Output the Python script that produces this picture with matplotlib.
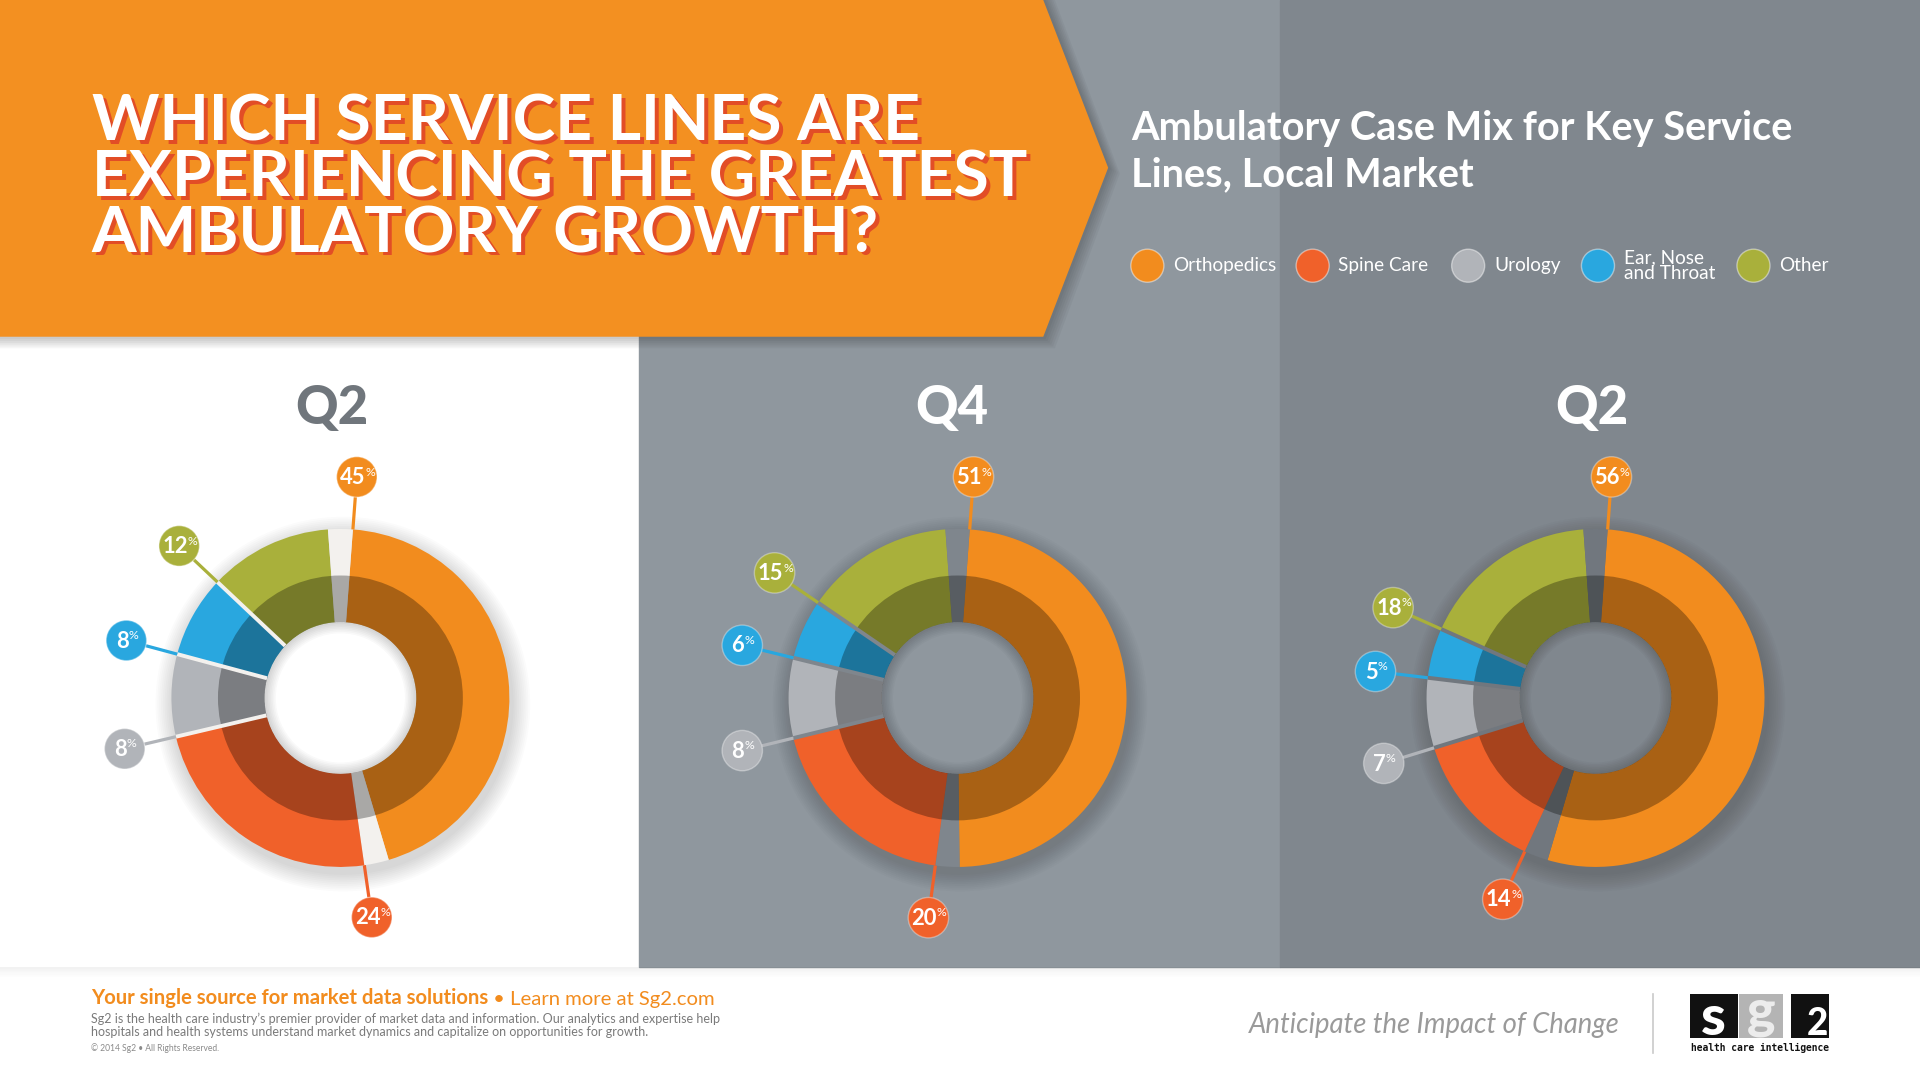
import numpy as np
import matplotlib.pyplot as plt
from matplotlib.patches import Rectangle, Polygon, Circle, Wedge

# layout is worked out on a 1568 x 882 grid and scaled up to 1920 x 1080
W, H = 1568, 882
S = 1920 / W

quarters = ['Q2', 'Q4', 'Q2']
service_lines = ['Orthopedics', 'Spine Care', 'Urology', 'Ear, Nose\nand Throat', 'Other']
orthopedics = [45, 51, 56]
spine_care = [24, 20, 14]
urology = [8, 8, 7]
ent = [8, 6, 5]
other = [12, 15, 18]

line_colors = ['#f28c1e', '#f0612a', '#b1b4b9', '#29a7df', '#a9b03b']

plt.rcParams['font.family'] = ['Lato', 'DejaVu Sans']


def pt(px):
    # size in grid pixels -> points
    return px * S * 0.72


def Y(y):
    return H - y


fig = plt.figure(figsize=(19.2, 10.8), dpi=100)
ax = fig.add_axes([0, 0, 1, 1])

# backgrounds
panel_bg = ['#ffffff', '#8f979e', '#80878e']
gap_bg = ['#f3f1ee', '#7f868d', '#71777e']
ax.add_patch(Rectangle((0, 0), W, H, color='white', zorder=0))
ax.add_patch(Rectangle((522, Y(790)), 523, 790, color=panel_bg[1], zorder=0))
ax.add_patch(Rectangle((1045, Y(790)), 523, 790, color=panel_bg[2], zorder=0))
for k in range(8):
    ax.add_patch(Rectangle((0, Y(790) - k - 1), W, 1, color='black',
                           alpha=0.05 * (1 - k / 8), lw=0, zorder=0.1))

# banner with soft shadow
for k in range(6):
    d = 2 + k * 1.5
    ax.add_patch(Polygon([(0, Y(0)), (852 + d, Y(0)), (905 + d, Y(137 + d / 2)),
                          (852 + d, Y(275 + d)), (0, Y(275 + d))],
                         closed=True, color='black', alpha=0.035, lw=0, zorder=0.2))
ax.add_patch(Polygon([(0, Y(0)), (852, Y(0)), (905, Y(137)), (852, Y(275)), (0, Y(275))],
                     closed=True, color='#f39021', lw=0, zorder=0.3))

title_lines = ['WHICH SERVICE LINES ARE', 'EXPERIENCING THE GREATEST', 'AMBULATORY GROWTH?']
for i, line in enumerate(title_lines):
    yb = 115 + i * 45.5
    ax.text(75 + 3, Y(yb + 3), line, color='#e24d26', fontsize=pt(52.5), fontweight='bold',
            va='baseline', ha='left', zorder=5)
    ax.text(75, Y(yb), line, color='white', fontsize=pt(52.5), fontweight='bold',
            va='baseline', ha='left', zorder=6)

ax.text(924, Y(114), 'Ambulatory Case Mix for Key Service', color='white', fontsize=pt(32.5),
        fontweight='bold', va='baseline', ha='left', zorder=5)
ax.text(924, Y(152), 'Lines, Local Market', color='white', fontsize=pt(32.5),
        fontweight='bold', va='baseline', ha='left', zorder=5)

# legend
legend_x = [937, 1072, 1199, 1305, 1432]
for name, col, lx in zip(service_lines, line_colors, legend_x):
    ax.add_patch(Circle((lx, Y(217)), 13.5, facecolor=col, edgecolor=(1, 1, 1, 0.45),
                        lw=1, zorder=5))
    ax.text(lx + 21, Y(217), name, color='white', fontsize=pt(15.5), va='center', ha='left',
            linespacing=0.95, zorder=5)

# donuts
centers_x = [278, 782, 1303]
heading_x = [271, 777, 1300]
heading_col = ['#70767c', 'white', 'white']
cy = 570
R, r_mid, r_hole = 138, 100, 62
rb, br = 181, 16.5
gap = 2.4

for i in range(3):
    cx = centers_x[i]
    vals = [orthopedics[i], spine_care[i], urology[i], ent[i], other[i]]
    pie_vals = [vals[0], gap] + vals[1:] + [gap]
    pie_cols = [line_colors[0], gap_bg[i]] + line_colors[1:] + [gap_bg[i]]
    total = sum(pie_vals)
    start = 90 - (gap / 2) / total * 360

    ax.text(heading_x[i], Y(334), quarters[i], color=heading_col[i], fontsize=pt(43),
            fontweight='black', ha='center', va='center', zorder=5)

    # soft drop shadow
    for k in range(10):
        ax.add_patch(Circle((cx + 2, Y(cy) - 5), R + 15 - k * 1.5, color='black',
                            alpha=0.014, lw=0, zorder=0.5))
    ax.add_patch(Circle((cx, Y(cy)), r_hole, color=panel_bg[i], lw=0, zorder=0.6))

    ax.pie(pie_vals, colors=pie_cols, radius=R, center=(cx, Y(cy)), startangle=start,
           counterclock=False, wedgeprops=dict(width=R - r_hole, linewidth=0))

    cum = [gap / 2, gap / 2 + vals[0] + gap]
    for v in vals[1:4]:
        cum.append(cum[-1] + v)
    thetas = np.radians(90 - np.array(cum) / total * 360)

    for j, th in enumerate(thetas):
        c, s = np.cos(th), np.sin(th)
        if j >= 2:
            ax.plot([cx + r_hole * c, cx + R * c], [Y(cy) + r_hole * s, Y(cy) + R * s],
                    color=gap_bg[i], lw=pt(3.2), solid_capstyle='butt', zorder=1.5)
        ax.plot([cx + R * c, cx + (rb - br) * c], [Y(cy) + R * s, Y(cy) + (rb - br) * s],
                color=line_colors[j], lw=pt(2.6), solid_capstyle='butt', zorder=3)
        bx, by = cx + rb * c, Y(cy) + rb * s
        ax.add_patch(Circle((bx, by), br, facecolor=line_colors[j],
                            edgecolor=(1, 1, 1, 0.35), lw=1, zorder=4))
        t = ax.text(bx - 3.5, by - 0.5, str(vals[j]), color='white', fontsize=pt(18),
                    fontweight='bold', ha='center', va='center', zorder=5)
        ax.annotate('%', xy=(1, 0.5), xycoords=t, color='white', fontsize=pt(10),
                    ha='left', va='bottom', zorder=5)

    # darker inner band
    ax.pie([1], colors=['black'], radius=r_mid, center=(cx, Y(cy)),
           wedgeprops=dict(width=r_mid - r_hole, linewidth=0, alpha=0.3))
    # inner shadow of the hole
    for k in range(7):
        ax.add_patch(Wedge((cx, Y(cy)), r_hole, 0, 360, width=1.5 + k * 1.3, color='black',
                           alpha=0.025, lw=0, zorder=2))

# footer
t1 = ax.text(74, Y(823), 'Your single source for market data solutions', color='#f28c1e',
             fontsize=pt(16.5), fontweight='bold', ha='left', va='bottom')
ax.annotate(' \u2022 Learn more at Sg2.com', xy=(1, 0), xycoords=t1, color='#f28c1e',
            fontsize=pt(16.5), ha='left', va='bottom')
ax.text(74, Y(832), "Sg2 is the health care industry\u2019s premier provider of market data and "
        "information. Our analytics and expertise help", color='#7a7a7a', fontsize=pt(10.25),
        ha='left', va='center')
ax.text(74, Y(843), 'hospitals and health systems understand market dynamics and capitalize '
        'on opportunities for growth.', color='#7a7a7a', fontsize=pt(10.25), ha='left',
        va='center')
ax.text(74, Y(856), '\u00a9 2014 Sg2 \u2022 All Rights Reserved.', color='#8a8a8a',
        fontsize=pt(7), ha='left', va='center')

ax.text(1323, Y(837), 'Anticipate the Impact of Change', color='#9a9a9a', fontsize=pt(22.5),
        fontstyle='italic', ha='right', va='center')
ax.plot([1350, 1350], [Y(812), Y(860)], color='#c9c9c9', lw=1.2)

# logo
ax.add_patch(Rectangle((1380, Y(848)), 39, 36, color='#111111', lw=0))
ax.add_patch(Rectangle((1420, Y(848)), 36, 36, color='#b4b4b4', lw=0))
ax.add_patch(Rectangle((1463, Y(848)), 31, 36, color='#111111', lw=0))
ax.text(1399.5, Y(832), 's', color='white', fontsize=pt(46), fontweight='black',
        ha='center', va='center')
ax.text(1438, Y(827), 'g', color='#ececec', fontsize=pt(44), fontweight='black',
        ha='center', va='center')
ax.text(1484, Y(836), '2', color='white', fontsize=pt(30), fontweight='black',
        ha='center', va='center')
ax.text(1437, Y(856), 'health care intelligence', color='#111111', fontsize=pt(7.9),
        fontweight='bold', family=['DejaVu Sans Mono', 'DejaVu Sans'], ha='center',
        va='center')

ax.set_xlim(0, W)
ax.set_ylim(0, H)
ax.set_aspect('auto')
ax.axis('off')

fig.savefig('out.png', dpi=100)
